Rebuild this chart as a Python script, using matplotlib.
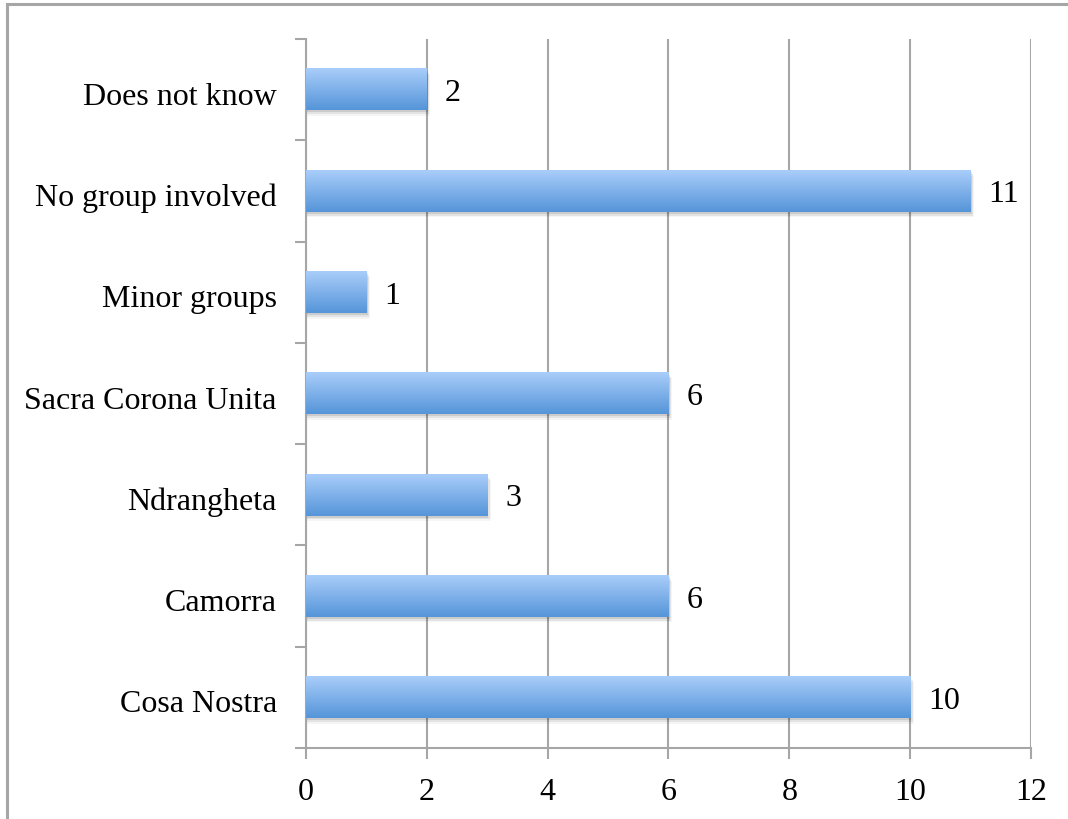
import numpy as np
import matplotlib.pyplot as plt
from matplotlib.patches import Rectangle
from matplotlib.colors import LinearSegmentedColormap

# Groups reported, bottom to top
groups = ["Cosa Nostra", "Camorra", "Ndrangheta", "Sacra Corona Unita",
          "Minor groups", "No group involved", "Does not know"]
counts = [10, 6, 3, 6, 1, 11, 2]
xticks = [0, 2, 4, 6, 8, 10, 12]

plt.rcParams['font.family'] = ['Liberation Serif', 'DejaVu Serif']
FS = 23

fig = plt.figure(figsize=(10.68, 8.2), dpi=100)
ax = fig.add_axes([0.2865, 0.0866, 0.6788, 0.8646])

# outer frame, open at right/bottom edge like a cropped chart box
fig.patches.append(Rectangle((7 / 1068, -0.1), 1.2, 1 - 5 / 820 + 0.1,
                             transform=fig.transFigure, fill=False,
                             edgecolor='#a6a6a6', linewidth=2.2, zorder=0))

blue = LinearSegmentedColormap.from_list('bar', ['#5595d9', '#a9cdfa'])
grad = np.linspace(0, 1, 64).reshape(-1, 1)
h = 0.41

ax.set_xlim(0, 12)
ax.set_ylim(-0.5, len(groups) - 0.5)

for i, v in enumerate(counts):
    # soft drop shadow under each bar
    for k, a in enumerate([0.10, 0.07, 0.04]):
        off = 0.02 + 0.018 * k
        ax.add_patch(Rectangle((0, i - h / 2 - off), v + 0.02 + 0.02 * k, h,
                               facecolor='black', alpha=a, linewidth=0, zorder=2))
    ax.imshow(grad, cmap=blue, aspect='auto', origin='lower',
              extent=(0, v, i - h / 2, i + h / 2), zorder=3)
    ax.text(v + 0.3, i - 0.03, str(v), va='center', ha='left', fontsize=FS)

ax.set_xlim(0, 12)
ax.set_ylim(-0.5, len(groups) - 0.5)

ax.set_xticks(xticks)
ax.set_yticks(np.arange(-0.5, len(groups), 1.0))
ax.set_yticks(np.arange(len(groups)) - 0.03, minor=True)
ax.set_yticklabels([])
ax.set_yticklabels(groups, minor=True)
ax.tick_params(axis='y', which='major', length=8, color='#a6a6a6', width=1.5, direction='out')
ax.tick_params(axis='y', which='minor', length=0, pad=21, labelsize=FS)
ax.tick_params(axis='x', length=8, color='#a6a6a6', width=1.5, pad=13, labelsize=FS)

ax.grid(axis='x', color='#a6a6a6', linewidth=1.5, zorder=1)
ax.set_axisbelow(True)
for s in ['top', 'right']:
    ax.spines[s].set_visible(False)
for s in ['left', 'bottom']:
    ax.spines[s].set_color('#a6a6a6')
    ax.spines[s].set_linewidth(1.5)

fig.savefig('out.png', dpi=100)
